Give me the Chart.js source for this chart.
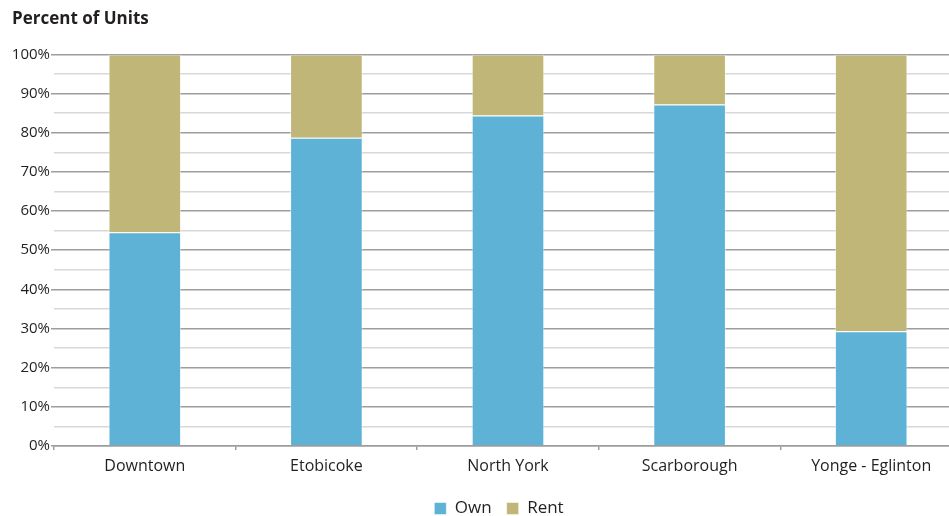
<!DOCTYPE html>
<html lang="en">
<head>
  <meta charset="UTF-8">
  <title>Percent of Units</title>
  <script src="https://cdn.jsdelivr.net/npm/chart.js"></script>
  <style>
    html, body { margin: 0; padding: 0; background: #fff; overflow: hidden; }
    #wrap { width: 962px; height: 527px; }
  </style>
</head>
<body>
  <div id="wrap"><canvas id="grafico" width="962" height="527"></canvas></div>

  <script>
    // Data
    const categories = ["Downtown", "Etobicoke", "North York", "Scarborough", "Yonge - Eglinton"];
    const ownValues = [54.6, 78.7, 84.4, 87.2, 29.3];
    const rentValues = [45.4, 21.3, 15.6, 12.8, 70.7];
    const yTicks = [0, 10, 20, 30, 40, 50, 60, 70, 80, 90, 100];

    const FONT = "'Open Sans', 'Noto Sans', sans-serif";
    const majorGrid = "#9d9d9d";
    const minorGrid = "#d8d8d8";

    // nudge the legend a little to the right, like the original
    const legendShift = {
      id: "legendShift",
      beforeDraw(chart) {
        if (chart.legend && !chart.legend._shifted) {
          chart.legend.left += 12;
          chart.legend.right += 12;
          chart.legend._shifted = true;
        }
      }
    };

    const ctx = document.getElementById("grafico").getContext("2d");
    new Chart(ctx, {
      type: "bar",
      data: {
        labels: categories,
        datasets: [
          {
            label: "Own",
            data: ownValues,
            backgroundColor: "#5db2d6",
            borderColor: "rgba(255,255,255,0.5)",
            borderWidth: 1
          },
          {
            label: "Rent",
            data: rentValues,
            backgroundColor: "#c0b678",
            borderColor: "rgba(255,255,255,0.5)",
            borderWidth: 1
          }
        ]
      },
      plugins: [legendShift],
      options: {
        responsive: false,
        animation: false,
        layout: { padding: { left: 12, right: 0, top: 0, bottom: 0 } },
        datasets: {
          bar: { categoryPercentage: 1, barPercentage: 0.4 }
        },
        plugins: {
          title: {
            display: true,
            text: "Percent of Units",
            align: "start",
            color: "#231f20",
            font: { family: FONT, size: 17, weight: "bold" },
            padding: { top: 9, bottom: 25 }
          },
          legend: {
            position: "bottom",
            labels: {
              color: "#231f20",
              font: { family: FONT, size: 17 },
              boxWidth: 12,
              boxHeight: 12,
              padding: 15
            }
          },
          tooltip: { enabled: false }
        },
        scales: {
          x: {
            stacked: true,
            border: { display: true, color: majorGrid, width: 1.5 },
            grid: {
              offset: true,
              drawOnChartArea: false,
              drawTicks: true,
              tickLength: 4,
              color: majorGrid,
              lineWidth: 1.5
            },
            ticks: {
              color: "#231f20",
              font: { family: FONT, size: 16 },
              padding: 7,
              maxRotation: 0
            },
            afterFit: (scale) => { scale.height = 39; }
          },
          y: {
            stacked: true,
            min: 0,
            max: 100,
            border: { display: false },
            grid: {
              color: (c) => (c.tick && c.tick.value % 10 === 0 ? majorGrid : minorGrid),
              tickColor: (c) => (c.tick && c.tick.value % 10 === 0 ? majorGrid : "rgba(0,0,0,0)"),
              lineWidth: 1.5,
              tickLength: 3
            },
            ticks: {
              stepSize: 5,
              autoSkip: false,
              padding: 1,
              color: "#231f20",
              font: { family: FONT, size: 15 },
              callback: (v) => (yTicks.includes(v) ? v + "%" : "")
            },
            afterFit: (scale) => { scale.width = 42; }
          }
        }
      }
    });
  </script>
</body>
</html>
